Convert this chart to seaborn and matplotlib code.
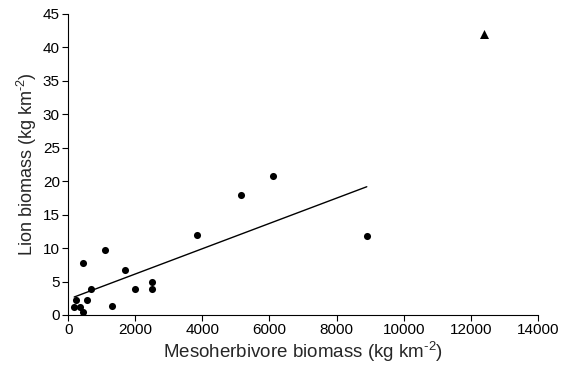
import matplotlib
matplotlib.use("Agg")
import matplotlib.pyplot as plt
import seaborn as sns
import pandas as pd

# Biomassa de mesoherbívoros (kg/km2) e de leões (kg/km2)
meso = [180, 220, 360, 430, 450, 550, 690, 1100, 1300, 1700, 2000, 2500, 2500,
        3850, 5150, 6100, 8900]
leao = [1.2, 2.2, 1.2, 0.5, 7.7, 2.2, 3.9, 9.7, 1.3, 6.7, 3.9, 4.9, 3.9,
        11.9, 18.0, 20.7, 11.8]

# Ponto discrepante (triângulo), fora da regressão
meso_out = [12400]
leao_out = [42.0]

df = pd.DataFrame({"meso": meso, "leao": leao})
df_out = pd.DataFrame({"meso": meso_out, "leao": leao_out})

sns.set_style("ticks")
plt.rcParams['font.family'] = ['Liberation Sans', 'DejaVu Sans']
plt.rcParams['mathtext.fontset'] = 'custom'
plt.rcParams['mathtext.rm'] = 'Liberation Sans'
plt.rcParams['mathtext.it'] = 'Liberation Sans:italic'
plt.rcParams['mathtext.default'] = 'rm'

fig = plt.figure(figsize=(5.68, 3.75), dpi=100)
ax = fig.add_axes([0.12, 0.16, 0.827, 0.803])

sns.regplot(data=df, x="meso", y="leao", scatter=False, ci=None, ax=ax,
            line_kws={"color": "black", "linewidth": 1.0})
sns.scatterplot(data=df, x="meso", y="leao", color="black", s=26,
                edgecolor="black", linewidth=0, ax=ax)
sns.scatterplot(data=df_out, x="meso", y="leao", color="black", marker="^",
                s=42, edgecolor="black", linewidth=0, ax=ax)

ax.set_xlim(0, 14000)
ax.set_ylim(0, 45)
ax.set_xticks(range(0, 14001, 2000))
ax.set_yticks(range(0, 46, 5))
ax.tick_params(axis="both", labelsize=11, length=4, width=0.8, color="black",
               labelcolor="black", pad=2)
for s in ["left", "bottom"]:
    ax.spines[s].set_color("black")
    ax.spines[s].set_linewidth(0.8)
sns.despine(ax=ax)

ax.set_xlabel(r"Mesoherbivore biomass (kg km$^{\text{-}2}$)", fontsize=13.5, labelpad=2)
ax.set_ylabel(r"Lion biomass (kg km$^{\text{-}2}$)", fontsize=13, labelpad=3)

plt.savefig("out.png", dpi=100)
